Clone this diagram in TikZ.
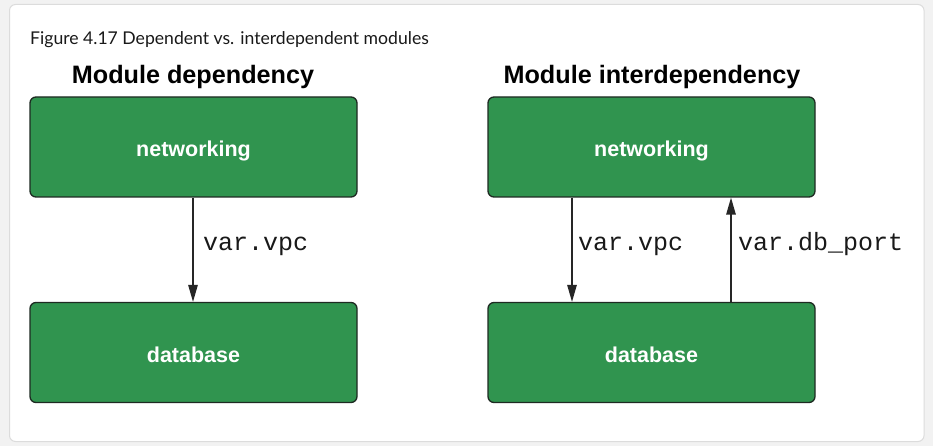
\documentclass[tikz,border=0pt]{standalone}
\usepackage{fontspec}
\setmainfont{Liberation Sans}
\newfontfamily\capfont{Lato}
\newfontfamily\codefont{Liberation Mono}
\usetikzlibrary{arrows.meta}
\definecolor{bggray}{HTML}{F2F2F2}
\definecolor{cardline}{HTML}{DCDCDC}
\definecolor{modgreen}{HTML}{30944F}
\definecolor{edgedark}{HTML}{1E2A22}
\tikzset{
  modbox/.style={draw=edgedark, line width=1.3pt, fill=modgreen, rounded corners=6pt,
    minimum width=327pt, minimum height=100pt, inner sep=0pt,
    text height=19pt, text depth=0pt,
    text=white, font=\bfseries\fontsize{21.5}{24}\selectfont},
  dep/.style={draw=black!85, line width=1.3pt, -{Triangle[length=17pt,width=9.5pt]}},
  codelbl/.style={font=\codefont\fontsize{25}{28}\selectfont, anchor=base west, inner sep=0pt, text=black!90},
  titlelbl/.style={font=\bfseries\fontsize{25.2}{28}\selectfont, inner sep=0pt, anchor=base}
}
\begin{document}
\begin{tikzpicture}[x=1pt,y=-1pt]
\useasboundingbox (0,0) rectangle (933,446);
\fill[bggray] (0,0) rectangle (933,446);
\draw[cardline, fill=white, line width=1pt, rounded corners=6pt] (9.5,4.5) rectangle (924,441.5);
\node[anchor=base west, inner sep=0pt, font=\capfont\fontsize{17.6}{20}\selectfont, text=black!90] (cap) at (30,45) {Figure 4.17 Dependent vs. interdependent modules};
\node[titlelbl] (t1) at (193,83.5) {Module dependency};
\node[titlelbl] (t2) at (652,83.5) {Module interdependency};
\node[modbox] (n1) at (193.5,147) {networking};
\node[modbox] (d1) at (193.5,352.5) {database};
\node[modbox] (n2) at (651.5,147) {networking};
\node[modbox] (d2) at (651.5,352.5) {database};
\draw[dep] ([xshift=-0.5pt]n1.south) -- ([xshift=-0.5pt]d1.north);
\node[codelbl] (l1) at (203,251) {var.vpc};
\draw[dep] ([xshift=-79.5pt]n2.south) -- ([xshift=-79.5pt]d2.north);
\node[codelbl] (l2) at (578,251) {var.vpc};
\draw[dep] ([xshift=79.5pt]d2.north) -- ([xshift=79.5pt]n2.south);
\node[codelbl] (l3) at (738,251) {var.db\_port};
\end{tikzpicture}
\end{document}
